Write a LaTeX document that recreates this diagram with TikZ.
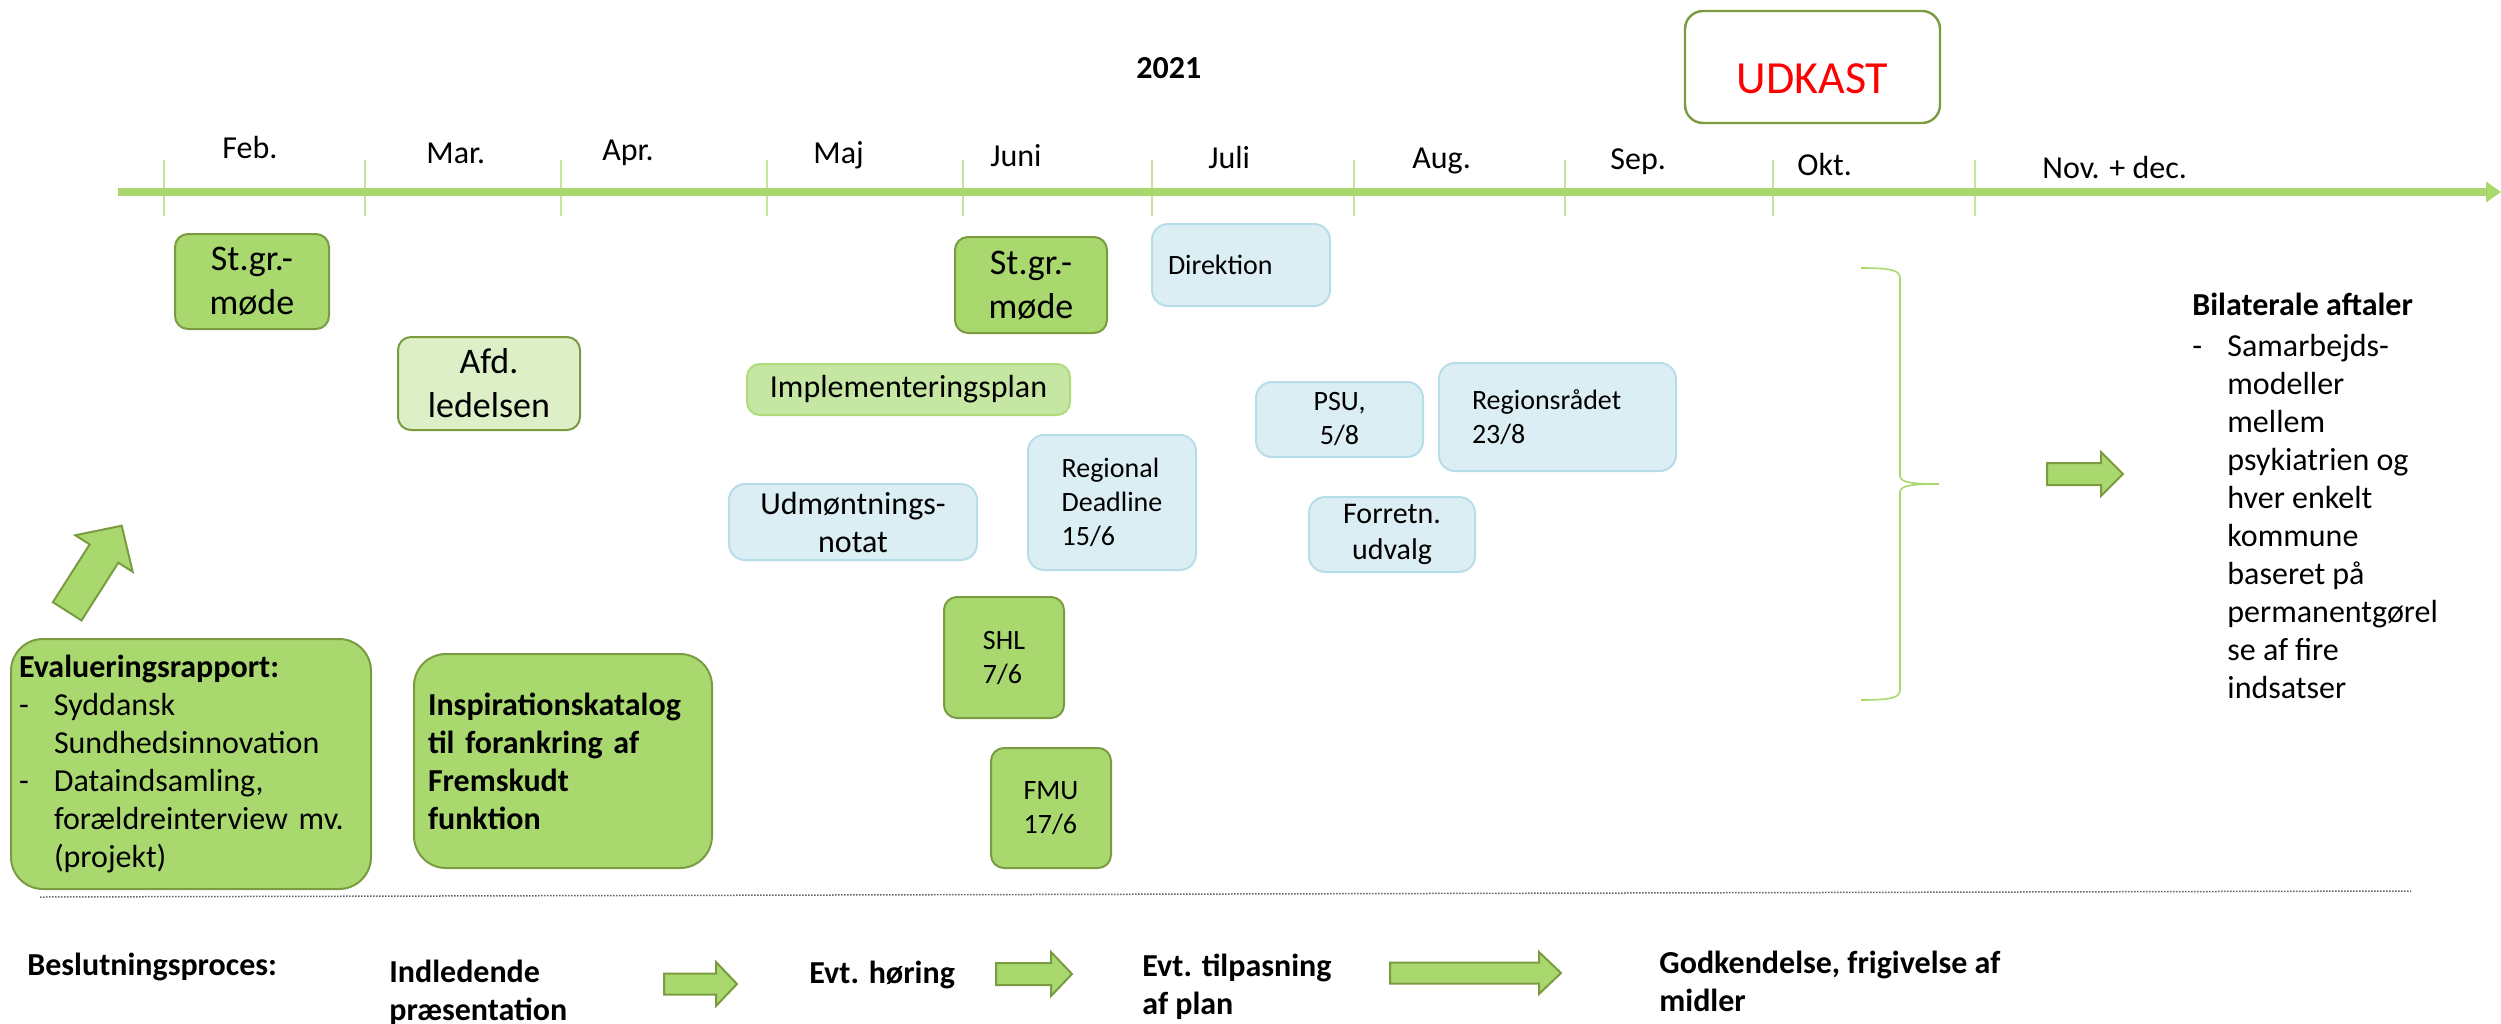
\documentclass[tikz,border=0pt]{standalone}
\usepackage{fontspec}
\setmainfont{Carlito}
\usepackage{tikz}
\usetikzlibrary{arrows.meta}
\usepackage{xcolor}
\definecolor{limegreen}{RGB}{169,216,110}
\definecolor{olivegreen}{RGB}{122,155,64}
\definecolor{palegreen}{RGB}{221,239,199}
\definecolor{plangreen}{RGB}{198,230,163}
\definecolor{planedge}{RGB}{176,219,124}
\definecolor{paleblue}{RGB}{219,238,244}
\definecolor{blueedge}{RGB}{183,221,232}
\definecolor{tickgreen}{RGB}{196,228,156}

% list dash and hanging indent
\newcommand{\dashitem}{\makebox[17.5pt][l]{-}}
\newcommand{\listindent}{\hspace*{17.5pt}}
% fat arrow: tail x, tail y, angle, length, shaft, head, head length
\newcommand{\blockarrow}[7]{%
  \draw[arrowshape, shift={(#1,#2)}, rotate=#3]
    (0,#5/2) -- ({#4-#7},#5/2) -- ({#4-#7},#6/2) -- (#4,0)
    -- ({#4-#7},-#6/2) -- ({#4-#7},-#5/2) -- (0,-#5/2) -- cycle;}

\tikzset{
  box/.style={rounded corners=6.5pt, line width=1pt, inner sep=0pt, align=center},
  boxsize/.style 2 args={minimum width=#1, minimum height=#2},
  greenbox/.style={box, draw=olivegreen, fill=limegreen},
  palebox/.style={box, draw=olivegreen, fill=palegreen},
  planbox/.style={box, draw=planedge, fill=plangreen},
  bluebox/.style={box, draw=blueedge, fill=paleblue, rounded corners=8pt},
  arrowshape/.style={draw=olivegreen, fill=limegreen, line width=1pt, line join=miter},
  txtbig/.style={font=\fontsize{18}{22}\selectfont},
  txtmid/.style={font=\fontsize{16}{19}\selectfont},
  txtsmall/.style={font=\fontsize{14}{17}\selectfont},
  txtbold/.style={font=\fontsize{16}{19}\selectfont\bfseries},
  monthlabel/.style={txtmid, anchor=base west, inner sep=0pt},
  decision/.style={txtbold, inner sep=0pt, align=left},
}

\begin{document}
\begin{tikzpicture}[x=0.5pt, y=-0.5pt]
  \useasboundingbox (0,0) rectangle (2501,1023);

  % time axis with month ticks
  \foreach \x in {164,365,561,767,963,1152,1354,1565,1773,1975}
    \draw[tickgreen, line width=0.6pt] (\x,160) -- (\x,216);
  \draw[limegreen, line width=3.7pt, -{Triangle[length=7.5pt,width=10pt]}] (118,192) -- (2501,192);
  \foreach \x/\y/\m [count=\i] in {222/158/Feb., 426/163/Mar., 602/160/Apr., 813/163/Maj,
      990/166/Juni, 1208/168/Juli, 1412/168/Aug., 1610/169/Sep., 1797/175/Okt., 2042/178/Nov. + dec.}
    \node[monthlabel] (month\i) at (\x,\y) {\m};
  \node[monthlabel, txtbold] (year) at (1136,78) {2021};

  \node[box, draw=olivegreen, fill=white, line width=1.2pt, rounded corners=9pt, text=red,
    font=\fontsize{23}{28}\selectfont, text height=26.8pt, text depth=0pt,
    boxsize={127.5pt}{56pt}] (draft) at (1812.5,67) {UDKAST};

  % meetings and deadlines
  \node[greenbox, txtbig, boxsize={77pt}{47.5pt}] (stgrA) at (252,281.5) {St.gr.-\\møde};
  \node[greenbox, txtbig, boxsize={76pt}{48pt}] (stgrB) at (1031,285) {St.gr.-\\møde};
  \node[palebox, txtbig, boxsize={91pt}{46.5pt}] (afd) at (489,383.5) {Afd.\\ledelsen};
  \node[planbox, txtmid, boxsize={161.5pt}{25.5pt}] (impl) at (908.5,389.5) {Implementeringsplan};
  \node[bluebox, txtmid, boxsize={124pt}{38pt}] (udm) at (853,522) {Udmøntnings-\\notat};
  \node[bluebox, txtsmall, align=left, boxsize={84pt}{67.5pt}] (regional) at (1112,502.5) {Regional\\Deadline\\15/6};
  \node[greenbox, txtsmall, align=left, boxsize={60pt}{60.5pt}] (shl) at (1004,657.5) {SHL\\7/6};
  \node[greenbox, txtsmall, align=left, boxsize={60pt}{60pt}] (fmu) at (1051,808) {FMU\\17/6};
  \node[bluebox, txtsmall, align=left, text width=73pt, boxsize={89pt}{41pt}] (direktion) at (1241,265) {Direktion};
  \node[bluebox, txtsmall, boxsize={83.5pt}{37.5pt}] (psu) at (1339.5,419.5) {PSU,\\5/8};
  \node[bluebox, txtsmall, align=left, text width=85.5pt, boxsize={118.5pt}{54pt}] (regionsraad)
    at (1557.5,417) {Regionsrådet\\23/8};
  \node[bluebox, font=\fontsize{15}{18}\selectfont, boxsize={83pt}{37.5pt}] (forretn) at (1392,534.5) {Forretn.\\udvalg};

  \node[greenbox, rounded corners=16pt, txtmid, align=left, text width=172pt, boxsize={180pt}{125pt}] (evalu) at (191,764)
    {\textbf{Evalueringsrapport:}\\ \dashitem Syddansk\\ \listindent Sundhedsinnovation\\
     \dashitem Dataindsamling,\\ \listindent forældreinterview mv.\\ \listindent (projekt)};
  \node[greenbox, rounded corners=16pt, txtbold, align=left, text width=135pt, boxsize={149pt}{107pt}] (inspir) at (563,761)
    {Inspirationskatalog\\til forankring af\\Fremskudt\\funktion};
  \blockarrow{67.2}{611.3}{57.5}{101.5}{34}{68}{33}

  % brace and outcome
  \draw[limegreen, line width=0.8pt] (1861,268) .. controls (1890,268) and (1900,270) .. (1900,278)
    -- (1900,476) .. controls (1900,483) and (1915,484) .. (1939,484)
    .. controls (1915,484) and (1900,485) .. (1900,492)
    -- (1900,690) .. controls (1900,698) and (1890,700) .. (1861,700);
  \blockarrow{2047}{474}{0}{76}{22}{44}{22}
  \node[txtmid, anchor=north west, align=left, inner sep=0pt] (bilateral) at (2192,293)
    {\textbf{Bilaterale aftaler}\\[1.5pt] \dashitem Samarbejds-\\ \listindent modeller\\ \listindent mellem\\
     \listindent psykiatrien og\\ \listindent hver enkelt\\ \listindent kommune\\ \listindent baseret på\\
     \listindent permanentgørel\\ \listindent se af fire\\ \listindent indsatser};

  % decision process
  \draw[black!60, line width=0.75pt, dash pattern=on 0.75pt off 0.75pt] (40,897) -- (2411,891);
  \node[decision, anchor=base west] (process) at (27,975) {Beslutningsproces:};
  \node[decision, anchor=north west] (phaseA) at (389,960) {Indledende\\præsentation};
  \node[decision, anchor=base west] (phaseB) at (809,983) {Evt. høring};
  \node[decision, anchor=north west] (phaseC) at (1142,954) {Evt. tilpasning\\af plan};
  \node[decision, anchor=north west] (phaseD) at (1659,951) {Godkendelse, frigivelse af\\midler};
  \blockarrow{664}{984}{0}{73}{21}{44}{21}
  \blockarrow{996}{974}{0}{76}{22}{44}{21}
  \blockarrow{1390}{973}{0}{171}{21}{42}{22}
\end{tikzpicture}
\end{document}
